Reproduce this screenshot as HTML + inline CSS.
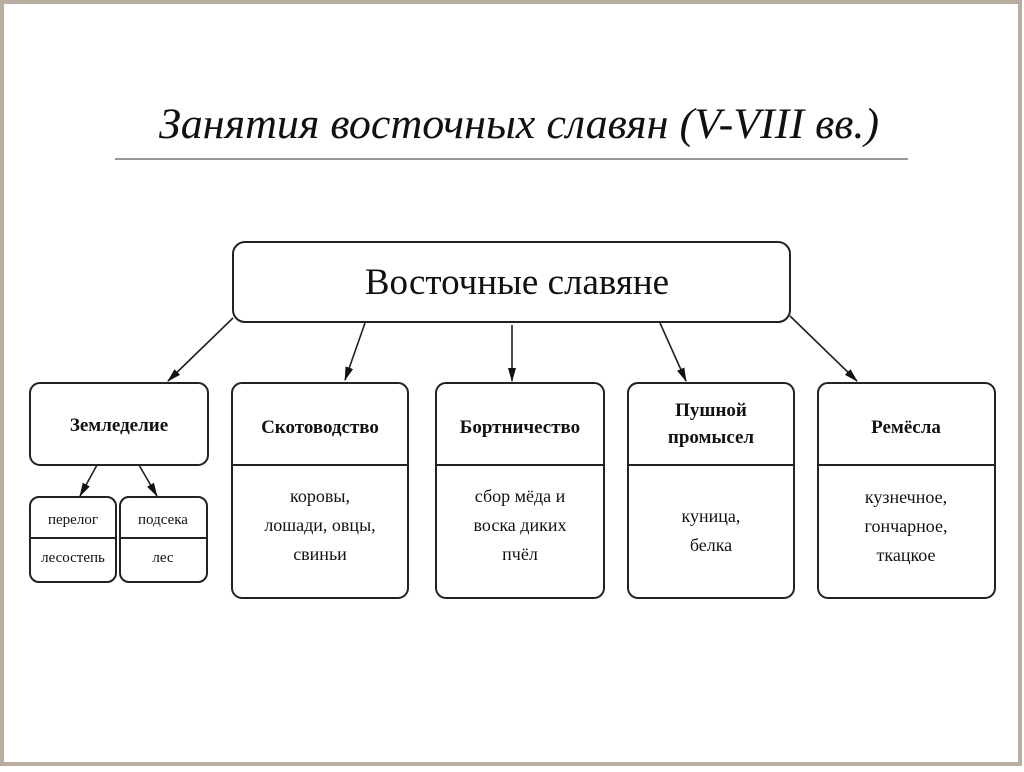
<!DOCTYPE html>
<html><head><meta charset="utf-8"><style>
html,body{margin:0;padding:0;background:#fff}
body{width:1024px;height:767px;overflow:hidden}
svg text{font-family:"Liberation Serif","DejaVu Serif",serif;fill:#111}
</style></head><body>
<svg width="1024" height="767" viewBox="0 0 1024 767" xmlns="http://www.w3.org/2000/svg">
<defs><marker id="a" markerWidth="14" markerHeight="8" refX="13" refY="4" orient="auto" markerUnits="userSpaceOnUse"><path d="M0,0 L14,4 L0,8 Z" fill="#111"/></marker></defs>
<rect x="0" y="0" width="1024" height="767" fill="#fff"/>
<rect x="2" y="2" width="1018" height="762" fill="none" stroke="#b8ad9e" stroke-width="4"/>
<text x="519" y="138" font-size="43" font-style="italic" text-anchor="middle" textLength="720" lengthAdjust="spacingAndGlyphs">Занятия восточных славян (V-VIII вв.)</text>
<line x1="115" y1="159" x2="908" y2="159" stroke="#777" stroke-width="1.5"/>
<g fill="none" stroke="#222" stroke-width="2">
<rect x="233" y="242" width="557" height="80" rx="12"/>
<rect x="30" y="383" width="178" height="82" rx="10"/>
<rect x="232" y="383" width="176" height="215" rx="10"/><line x1="232" y1="465" x2="408" y2="465"/>
<rect x="436" y="383" width="168" height="215" rx="10"/><line x1="436" y1="465" x2="604" y2="465"/>
<rect x="628" y="383" width="166" height="215" rx="10"/><line x1="628" y1="465" x2="794" y2="465"/>
<rect x="818" y="383" width="177" height="215" rx="10"/><line x1="818" y1="465" x2="995" y2="465"/>
<rect x="30" y="497" width="86" height="85" rx="9"/><line x1="30" y1="538" x2="116" y2="538"/>
<rect x="120" y="497" width="87" height="85" rx="9"/><line x1="120" y1="538" x2="207" y2="538"/>
<g stroke-width="1.6" marker-end="url(#a)">
<line x1="233" y1="318" x2="168" y2="381"/>
<line x1="365" y1="323" x2="345" y2="380"/>
<line x1="512" y1="325" x2="512" y2="381"/>
<line x1="660" y1="323" x2="686" y2="381"/>
<line x1="790" y1="316" x2="857" y2="381"/>
<line x1="97" y1="465" x2="80" y2="496"/>
<line x1="139" y1="465" x2="157" y2="496"/>
</g></g>
<text x="517" y="294" font-size="37" text-anchor="middle">Восточные славяне</text>
<g font-weight="bold" font-size="19" text-anchor="middle">
<text x="119" y="431">Земледелие</text>
<text x="320" y="433">Скотоводство</text>
<text x="520" y="433">Бортничество</text>
<text x="711" y="416">Пушной</text>
<text x="711" y="443">промысел</text>
<text x="906" y="433">Ремёсла</text>
</g>
<g font-size="18" text-anchor="middle">
<text x="320" y="502">коровы,</text>
<text x="320" y="531">лошади, овцы,</text>
<text x="320" y="560">свиньи</text>
<text x="520" y="502">сбор мёда и</text>
<text x="520" y="531">воска диких</text>
<text x="520" y="560">пчёл</text>
<text x="711" y="522">куница,</text>
<text x="711" y="551">белка</text>
<text x="906" y="503">кузнечное,</text>
<text x="906" y="532">гончарное,</text>
<text x="906" y="561">ткацкое</text>
</g>
<g font-size="15" text-anchor="middle">
<text x="73" y="524">перелог</text>
<text x="73" y="562">лесостепь</text>
<text x="163" y="524">подсека</text>
<text x="163" y="562">лес</text>
</g>
</svg>
</body></html>
